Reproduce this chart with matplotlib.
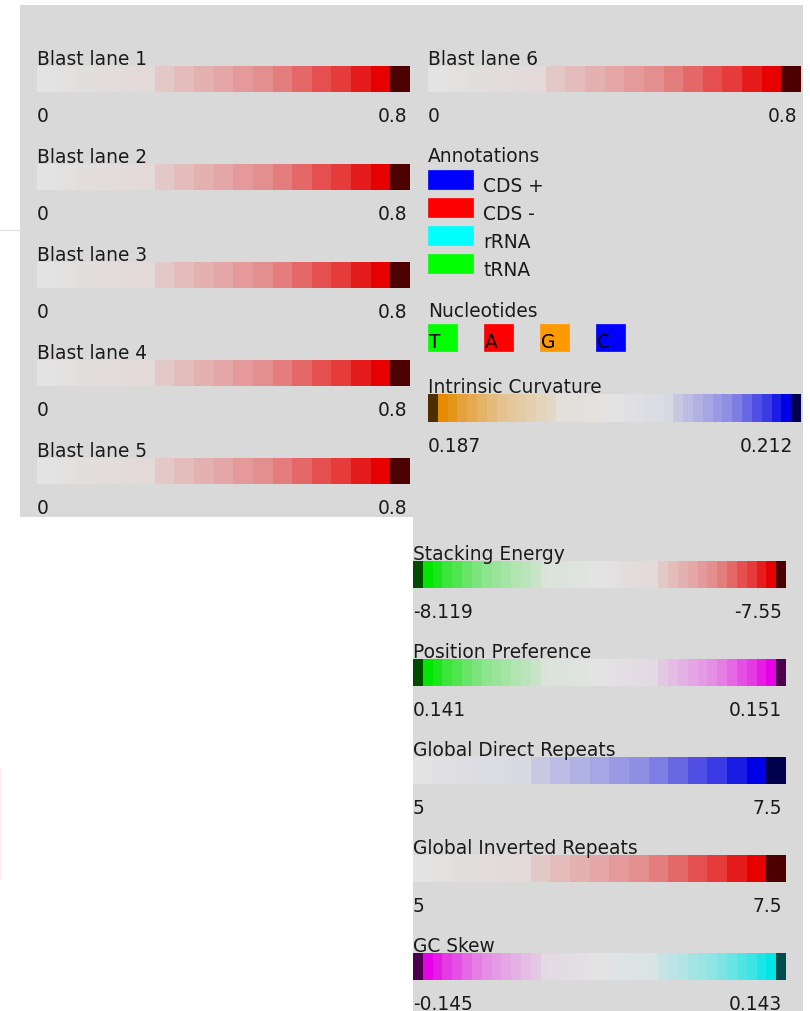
"""
Legend panel for a circular genome map: blast lanes, annotations,
nucleotides and the colour scales of the analysis tracks.
"""
import numpy as np
import matplotlib
matplotlib.use('Agg')
import matplotlib.pyplot as plt
from matplotlib.colors import to_rgb

# ---- Legend content ----
blast_lanes = ['Blast lane 1', 'Blast lane 2', 'Blast lane 3',
               'Blast lane 4', 'Blast lane 5', 'Blast lane 6']
blast_min = ['0', '0', '0', '0', '0', '0']
blast_max = ['0.8', '0.8', '0.8', '0.8', '0.8', '0.8']

annot_names = ['CDS +', 'CDS -', 'rRNA', 'tRNA']
annot_colors = ['#0000ff', '#ff0000', '#00ffff', '#00ff00']

nuc_letters = ['T', 'A', 'G', 'C']
nuc_colors = ['#00ff00', '#ff0000', '#ff9900', '#0000ff']

scale_names = ['Stacking Energy', 'Position Preference', 'Global Direct Repeats',
               'Global Inverted Repeats', 'GC Skew']
scale_min = ['-8.119', '0.141', '5', '5', '-0.145']
scale_max = ['-7.55', '0.151', '7.5', '7.5', '0.143']

curv_name = 'Intrinsic Curvature'
curv_min, curv_max = '0.187', '0.212'

# ---- Colour ramps (grey -> full colour) ----
GREY = np.array(to_rgb('#e3e3e3'))
ramp = [0, .013, .022, .031, .035, .044, .12, .17, .22, .27, .32, .37,
        .45, .54, .65, .74, .88, 1.0]


def blend(c, w):
    return tuple(GREY * (1 - w) + np.array(to_rgb(c)) * w)


def one_sided(full, dark):
    return [blend(full, w) for w in ramp] + [dark]


def two_sided(dark_l, full_l, full_r, dark_r):
    return ([dark_l] + [blend(full_l, w) for w in ramp[::-1]]
            + [blend(full_r, w) for w in ramp] + [dark_r])


blast_cols = one_sided('#e60000', '#4d0000')
curv_cols = two_sided('#4d2e00', '#e68a00', '#0000e6', '#00004d')
scale_cols = [
    two_sided('#004d00', '#00e600', '#e60000', '#4d0000'),
    two_sided('#004d00', '#00e600', '#e600e6', '#4d004d'),
    one_sided('#0000e6', '#00004d'),
    one_sided('#e60000', '#4d0000'),
    two_sided('#4d004d', '#e600e6', '#00e6e6', '#004d4d'),
]

BG = '#d9d9d9'
TXT = '#1a1a1a'
FS = 13.4

fig = plt.figure(figsize=(8.1, 10.12), dpi=100)
fig.patch.set_facecolor('white')
ax = fig.add_axes([0, 0, 1, 1])
ax.set_xlim(0, 810)
ax.set_ylim(1012, 0)
ax.axis('off')

# background panels
ax.add_patch(plt.Rectangle((20, 6), 783, 512, color=BG, lw=0, zorder=0))
ax.add_patch(plt.Rectangle((413, 518), 390, 494, color=BG, lw=0, zorder=0))
ax.plot([0, 20], [231, 231], color='#e4e4e4', lw=1, zorder=0)
ax.plot([0.8, 0.8], [770, 880], color='#fdeeee', lw=1.5, zorder=0)


def color_bar(x0, x1, ytop, h, cols, title, lo, hi, gap=3):
    n = len(cols)
    edges = np.linspace(x0, x1, n + 1)
    ax.bar(edges[:-1], h, width=np.diff(edges), bottom=ytop, align='edge',
           color=cols, linewidth=0, zorder=2)
    ax.text(x0, ytop - 2, title, fontsize=FS, color=TXT, ha='left', va='baseline')
    ax.text(x0, ytop + h + 29, lo, fontsize=FS, color=TXT, ha='left', va='baseline')
    ax.text(x1 - gap, ytop + h + 29, hi, fontsize=FS, color=TXT, ha='right', va='baseline')


# blast lanes 1-5 (left column), lane 6 (right column)
for i in range(5):
    color_bar(37, 410, 67 + 98 * i, 26, blast_cols, blast_lanes[i],
              blast_min[i], blast_max[i])
color_bar(428, 801, 67, 26, blast_cols, blast_lanes[5], blast_min[5], blast_max[5], gap=4)

# annotations
ax.text(428, 162, 'Annotations', fontsize=FS, color=TXT, ha='left', va='baseline')
for i, (name, c) in enumerate(zip(annot_names, annot_colors)):
    y = 171 + 28 * i
    ax.add_patch(plt.Rectangle((428, y), 45, 19, facecolor=c, edgecolor=c, lw=0.5, zorder=2))
    ax.text(483, y + 21, name, fontsize=FS, color=TXT, ha='left', va='baseline')

# nucleotides
ax.text(428, 317, 'Nucleotides', fontsize=FS, color=TXT, ha='left', va='baseline')
for i, (letter, c) in enumerate(zip(nuc_letters, nuc_colors)):
    x = 428 + 56 * i
    ax.add_patch(plt.Rectangle((x, 325), 29, 27, facecolor=c, edgecolor=c, lw=0.5, zorder=2))
    ax.text(x + 1, 348, letter, fontsize=FS, color='black', ha='left', va='baseline', zorder=3)

# intrinsic curvature
color_bar(428, 801, 395, 28, curv_cols, curv_name, curv_min, curv_max, gap=8)

# analysis scales (bottom panel)
for i in range(len(scale_names)):
    color_bar(413, 786, 562 + 98 * i, 27, scale_cols[i], scale_names[i],
              scale_min[i], scale_max[i], gap=4)

plt.savefig('out.png', dpi=100, facecolor='white')
plt.close()
